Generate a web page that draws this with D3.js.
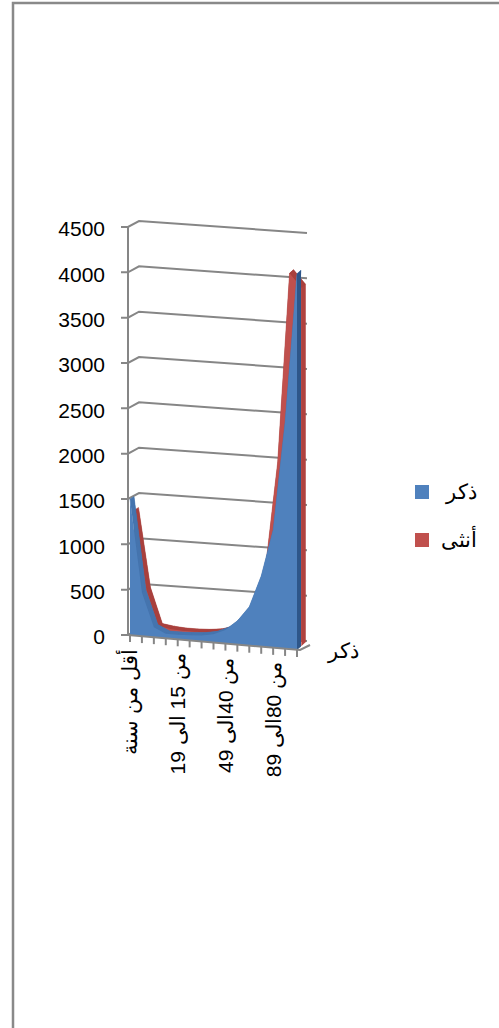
<!DOCTYPE html>
<html lang="ar">
<head>
<meta charset="UTF-8">
<title>3D area chart</title>
<script src="https://d3js.org/d3.v7.min.js"></script>
<style>
  body { margin: 0; background: #fff; }
  svg text { font-family: "Liberation Sans", Arial, sans-serif; font-size: 21px; fill: #000; }
</style>
</head>
<body>
<div id="chart"></div>
<script>
// age groups (category axis)
const ages = [
  "أقل من سنة", "من 1 الى 4", "من 5 الى 9", "من 10 الى 14", "من 15 الى 19",
  "من 20 الى 24", "من 25 الى 29", "من 30 الى 39", "من 40الى 49", "من 50 الى 59",
  "من 60 الى 69", "من 70 الى 79", "من 80الى 89", "من 90 الى 99", "أكثر من 100"
];
// series values
const male   = [1500, 480, 110, 50, 50, 55, 65, 90, 150, 260, 430, 780, 1300, 2500, 4150];
const female = [1350, 480, 90, 70, 60, 60, 65, 80, 120, 220, 420, 850, 2000, 4100, 3950];
const seriesNames = ["ذكر", "أنثى"];
const yTicks = [0, 500, 1000, 1500, 2000, 2500, 3000, 3500, 4000, 4500];
const labelEvery = 4;

const W = 499, H = 1028;
const svg = d3.select("#chart").append("svg").attr("width", W).attr("height", H);

// chart area border (right and bottom edges lie outside the window)
svg.append("rect")
  .attr("x", 13).attr("y", 3).attr("width", 560).attr("height", 1100)
  .attr("fill", "none").attr("stroke", "#898989").attr("stroke-width", 2.5);

// scales
const t = d3.scalePoint().domain(ages).range([0, 1]);
const xs = d3.scaleLinear().domain([0, 1]).range([130, 297]);
const h = d3.scaleLinear().domain([0, 4500]).range([0, 408]);
const y0 = 635;                 // front floor, left
const depth = { dx: 10, dy: 6 }; // full depth offset

// oblique projection: category position, value, depth (0 front .. 1 back)
function P(tt, v, d) {
  const x = xs(tt) + depth.dx * d;
  const y = y0 + (15 - 3 * d) * tt - depth.dy * d - h(v);
  return [x, y];
}
const poly = d3.line().curve(d3.curveLinearClosed);
const grid = "#868686";

// back wall gridlines, left wall and value ticks
yTicks.forEach(v => {
  const yf = y0 - h(v);
  const back0 = P(0, v, 1), back1 = P(1, v, 1);
  svg.append("path")
    .attr("d", d3.line()([[121, yf], [128, yf], [139, back0[1]], back1]))
    .attr("fill", "none").attr("stroke", grid).attr("stroke-width", 2);
  svg.append("text")
    .attr("x", 105).attr("y", yf + 2).attr("dy", "0.35em")
    .attr("text-anchor", "end")
    .text(v);
});

// one series slab between depths d0 and d1
function slab(vals, d0, d1, cFront, cTop, cSide) {
  const g = svg.append("g");
  const pts = ages.map((a, i) => ({ tt: t(a), v: vals[i] }));
  const face = d => [P(0, 0, d), ...pts.map(p => P(p.tt, p.v, d)), P(1, 0, d)];
  g.append("path").attr("d", poly(face(d1))).attr("fill", cTop);
  for (let i = 0; i < pts.length - 1; i++) {
    const a = pts[i], b = pts[i + 1];
    g.append("path")
      .attr("d", poly([P(a.tt, a.v, d0), P(b.tt, b.v, d0), P(b.tt, b.v, d1), P(a.tt, a.v, d1)]))
      .attr("fill", cTop).attr("stroke", cTop).attr("stroke-width", 0.5);
  }
  const last = pts[pts.length - 1];
  g.append("path")
    .attr("d", poly([P(1, 0, d0), P(1, last.v, d0), P(1, last.v, d1), P(1, 0, d1)]))
    .attr("fill", cSide);
  g.append("path").attr("d", poly(face(d0))).attr("fill", cFront);
}

slab(female, 0.45, 0.85, "#C0504D", "#A9403D", "#B0423F");
slab(male, 0, 0.4, "#4F81BD", "#4574AE", "#2E5689");

// value axis line
svg.append("line")
  .attr("x1", 128).attr("y1", y0 - h(4500)).attr("x2", 128).attr("y2", y0)
  .attr("stroke", grid).attr("stroke-width", 2);

// floor front edge and category ticks
const fl = P(1, 0, 0);
svg.append("path")
  .attr("d", d3.line()([[128, y0], [fl[0] + 3, fl[1]], [fl[0] + 13, fl[1] - 5]]))
  .attr("fill", "none").attr("stroke", grid).attr("stroke-width", 2);

ages.forEach(a => {
  const p = P(t(a), 0, 0);
  svg.append("line")
    .attr("x1", p[0]).attr("y1", p[1]).attr("x2", p[0]).attr("y2", p[1] + 7)
    .attr("stroke", grid).attr("stroke-width", 2);
});

ages.forEach((a, i) => {
  if (i % labelEvery) return;
  const p = P(t(a), 0, 0);
  svg.append("text")
    .attr("transform", `translate(${p[0]},${p[1] + 14}) rotate(-90)`)
    .attr("dy", "0.35em")
    .attr("text-anchor", "end")
    .text(a);
});

// series (depth) axis label
svg.append("text")
  .attr("x", 343).attr("y", 658).attr("text-anchor", "middle")
  .text(seriesNames[0]);

// legend
const legendColors = ["#4F81BD", "#C0504D"];
seriesNames.forEach((s, i) => {
  const yy = 492 + i * 48;
  svg.append("rect")
    .attr("x", 415).attr("y", yy - 7).attr("width", 14).attr("height", 14)
    .attr("fill", legendColors[i]);
  svg.append("text")
    .attr("x", 477).attr("y", yy).attr("dy", "0.35em")
    .attr("text-anchor", "end")
    .text(s);
});
</script>
</body>
</html>
